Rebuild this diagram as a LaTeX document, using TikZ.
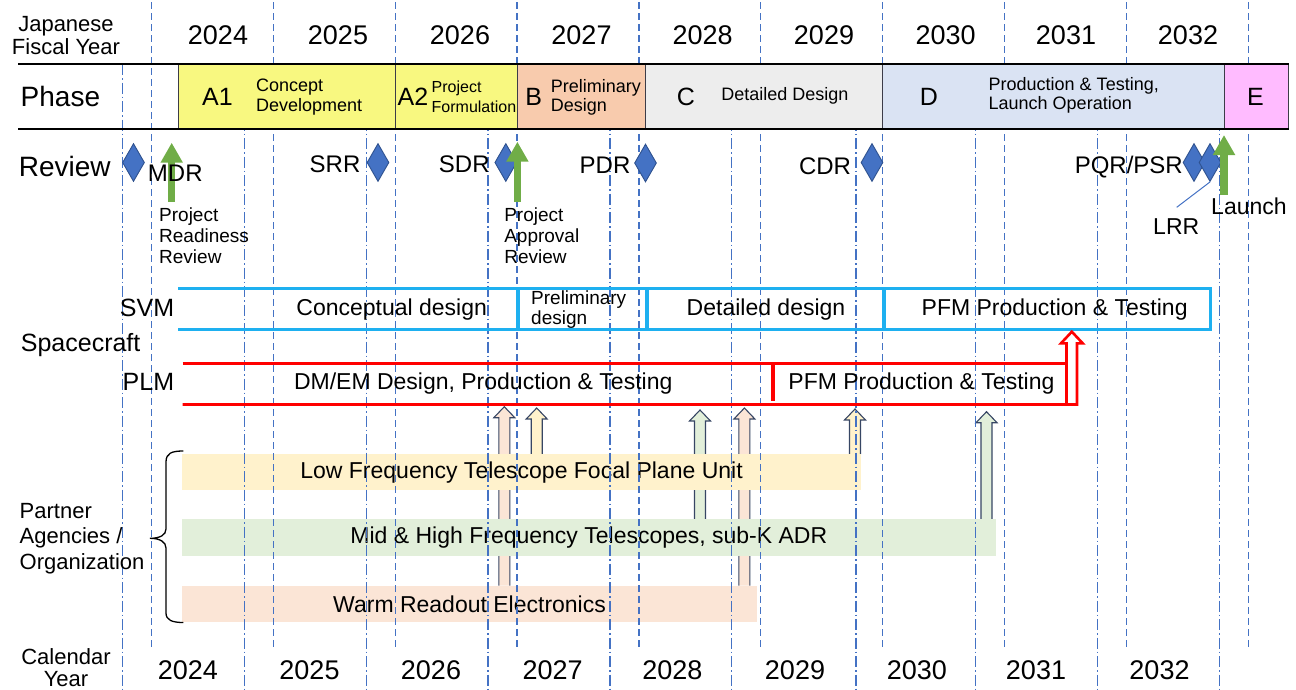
\documentclass[tikz,border=0pt]{standalone}
\usepackage{fontspec}
\setmainfont{Liberation Sans}
\usetikzlibrary{shapes.geometric,arrows.meta,calc,backgrounds}
\definecolor{gridblue}{RGB}{68,114,196}
\definecolor{revfill}{RGB}{68,114,196}
\definecolor{revline}{RGB}{47,82,143}
\definecolor{msgreen}{RGB}{112,173,71}
\definecolor{boxline}{RGB}{60,60,72}
\definecolor{phaseA}{RGB}{248,248,128}
\definecolor{phaseB}{RGB}{248,203,173}
\definecolor{phaseC}{RGB}{237,237,237}
\definecolor{phaseD}{RGB}{218,227,243}
\definecolor{phaseE}{RGB}{255,187,255}
\definecolor{svmblue}{RGB}{30,176,240}
\definecolor{lfcol}{RGB}{255,242,204}
\definecolor{mhcol}{RGB}{226,239,218}
\definecolor{wrcol}{RGB}{251,229,214}
\definecolor{feedline}{RGB}{55,70,100}
\tikzstyle{fyline}=[draw=gridblue, line width=1.2pt, dash pattern=on 7pt off 4pt]
\tikzstyle{cyline}=[draw=gridblue, line width=1.2pt, dash pattern=on 11pt off 3pt on 1.5pt off 3pt]
\tikzstyle{phasebox}=[draw=boxline, line width=0.9pt]
\tikzstyle{phaserule}=[draw=black, line width=2.6pt]
\tikzstyle{review}=[diamond, draw=revline, fill=revfill, line width=0.9pt, inner sep=0pt, minimum width=22pt, minimum height=38pt]
\newcommand{\review}{\node[review]}
\tikzstyle{milestone}=[draw=msgreen, line width=7.5pt, -{Triangle[width=21pt,length=20pt]}]
\tikzstyle{svmline}=[draw=svmblue, line width=3pt]
\tikzstyle{plmline}=[draw=red, line width=2.6pt]
\tikzstyle{feed}=[draw=feedline, line width=1.1pt]
\tikzstyle{headtxt}=[inner sep=0pt, align=center, font=\fontsize{22}{23}\selectfont]
\tikzstyle{bigtxt}=[inner sep=0pt, anchor=west, font=\fontsize{28}{30}\selectfont]
\tikzstyle{yeartxt}=[inner sep=0pt, font=\fontsize{27}{30}\selectfont]
\tikzstyle{ltrtxt}=[inner sep=0pt, font=\fontsize{25}{28}\selectfont]
\tikzstyle{desctxt}=[inner sep=0pt, anchor=west, align=left, font=\fontsize{18}{19.5}\selectfont]
\tikzstyle{revtxt}=[inner sep=0pt, font=\fontsize{24}{26}\selectfont]
\tikzstyle{subtxt}=[inner sep=0pt, anchor=west, align=left, font=\fontsize{19}{20.8}\selectfont]
\tikzstyle{modtxt}=[inner sep=0pt, font=\fontsize{25}{28}\selectfont]
\tikzstyle{segtxt}=[inner sep=0pt, font=\fontsize{23}{26}\selectfont]
\tikzstyle{bartxt}=[inner sep=0pt, anchor=north west, font=\fontsize{23}{26}\selectfont]
\newcommand{\feed}[3]{\draw[feed, fill=#1] let \p1=(#2), \p2=(#3) in
    (\x1-5.5pt,\y1) -- (\x1-5.5pt,\y2-11pt) -- (\x1-10.5pt,\y2-11pt) -- (\x1,\y2)
    -- (\x1+10.5pt,\y2-11pt) -- (\x1+5.5pt,\y2-11pt) -- (\x1+5.5pt,\y1);}

\begin{document}
\begin{tikzpicture}[x=1pt, y=-1pt]
            \useasboundingbox (0,0) rectangle (1296,689);
            \node[bartxt, fill=lfcol, minimum width=679.3, minimum height=36] (lf) at (181.7,454) {Low Frequency Telescope Focal Plane Unit};
            \node[bartxt, fill=mhcol, minimum width=813.9, minimum height=36.5] (mh) at (181.7,519) {Mid \& High Frequency Telescopes, sub-K ADR};
            \node[bartxt, fill=wrcol, minimum width=575.3, minimum height=36.3] (wr) at (181.7,585.7) {Warm Readout Electronics};
            \coordinate (f1) at (504.3,406.7);
            \coordinate (f2) at (536.7,408);
            \coordinate (f3) at (700,410);
            \coordinate (f4) at (744.4,408);
            \coordinate (f5) at (855,409);
            \coordinate (f6) at (986.5,411.7);
            \begin{pgfonlayer}{background}
                \feed{wrcol}{wr.north -| f1}{f1}
                \feed{lfcol}{lf.north -| f2}{f2}
                \feed{mhcol}{mh.north -| f3}{f3}
                \feed{wrcol}{wr.north -| f4}{f4}
                \feed{lfcol}{lf.north -| f5}{f5}
                \feed{mhcol}{mh.north -| f6}{f6}
            \end{pgfonlayer}
            \draw[fyline] (151.3,2) -- (151.3,648) (273.2,2) -- (273.2,648) (395.1,2) -- (395.1,648)
                (517,2) -- (517,648) (638.9,2) -- (638.9,648) (760.8,2) -- (760.8,648)
                (882.7,2) -- (882.7,648) (1004.6,2) -- (1004.6,648) (1126.5,2) -- (1126.5,648)
                (1248.4,2) -- (1248.4,648);
            \draw[cyline] (122.3,64) -- (122.3,689) (244.2,64) -- (244.2,689) (366.1,64) -- (366.1,689)
                (488,64) -- (488,689) (609.9,64) -- (609.9,689) (731.8,64) -- (731.8,689)
                (856,64) -- (856,689) (975.6,64) -- (975.6,689) (1097.5,64) -- (1097.5,689)
                (1219.4,64) -- (1219.4,689);
            \draw[phasebox, fill=phaseA] (178.4,64) rectangle (395.4,129);
            \draw[phasebox, fill=phaseA] (395.4,64) rectangle (517.8,129);
            \draw[phasebox, fill=phaseB] (517.8,64) rectangle (645.5,129);
            \draw[phasebox, fill=phaseC] (645.5,64) rectangle (882.7,129);
            \draw[phasebox, fill=phaseD] (882.7,64) rectangle (1224.5,129);
            \draw[phasebox, fill=phaseE] (1224.5,64) rectangle (1288.5,129);
            \draw[phaserule] (18,64) -- (1288.5,64) (18,129) -- (1288.5,129);
            \node[headtxt] (fy) at (66,35.5) {Japanese\\Fiscal Year};
            \node[yeartxt] (fy24) at (218,35) {2024};
            \node[yeartxt] (fy25) at (338,35) {2025};
            \node[yeartxt] (fy26) at (460,35) {2026};
            \node[yeartxt] (fy27) at (581.5,35) {2027};
            \node[yeartxt] (fy28) at (702.7,35) {2028};
            \node[yeartxt] (fy29) at (824,35) {2029};
            \node[yeartxt] (fy30) at (945.6,35) {2030};
            \node[yeartxt] (fy31) at (1066,35) {2031};
            \node[yeartxt] (fy32) at (1188,35) {2032};
            \node[bigtxt] (phase) at (20.5,96.5) {Phase};
            \node[ltrtxt] (a1) at (217.4,96.5) {A1};
            \node[desctxt] (a1txt) at (256,97) {Concept\\Development};
            \node[ltrtxt] (a2) at (412.9,96.5) {A2};
            \node[desctxt, font=\fontsize{16}{19.5}\selectfont] (a2txt) at (431.5,97) {Project\\Formulation};
            \node[ltrtxt] (b) at (533.8,96.5) {B};
            \node[desctxt] (btxt) at (550.6,97.5) {Preliminary\\Design};
            \node[ltrtxt] (c) at (686,96.5) {C};
            \node[desctxt, anchor=center] (ctxt) at (784.8,96) {Detailed Design};
            \node[ltrtxt] (d) at (929,96.5) {D};
            \node[desctxt] (dtxt) at (988.5,95.5) {Production \& Testing,\\Launch Operation};
            \node[ltrtxt] (e) at (1255.4,96.5) {E};
            \node[bigtxt] (review) at (18.7,166.7) {Review};
            \review (mdrd) at (133.5,162.5){};
            \review (srrd) at (378,162.5){};
            \review (sdrd) at (505.8,162.5){};
            \review (pdrd) at (645.5,163){};
            \review (cdrd) at (872,162.5){};
            \review (psrd) at (1194,162.5){};
            \review (lrrd) at (1210,162.5){};
            \coordinate (mdrfoot) at (171.7,201.7);
            \coordinate (mdrup) at (171.7,142.7);
            \coordinate (parfoot) at (517.4,201.7);
            \coordinate (parup) at (517.4,141.7);
            \coordinate (lchfoot) at (1224,195);
            \coordinate (lchup) at (1224,135);
            \coordinate (lrrfoot) at (1176.7,207.3);
            \draw[milestone] (mdrfoot) -- (mdrup);
            \draw[milestone] (parfoot) -- (parup);
            \draw[milestone] (lchfoot) -- (lchup);
            \draw[gridblue, line width=1pt] (lrrfoot) -- (lrrd.south);
            \node[revtxt] (mdr) at (175.3,173.3) {MDR};
            \node[revtxt] (srr) at (335,164) {SRR};
            \node[revtxt] (sdr) at (464.3,164) {SDR};
            \node[revtxt] (pdr) at (605,165) {PDR};
            \node[revtxt] (cdr) at (825,166) {CDR};
            \node[revtxt, anchor=east] (pqr) at (1183,167) {PQR/PSR};
            \node[subtxt] (prr) at (159,236) {Project\\Readiness\\Review};
            \node[subtxt] (par) at (504.1,236) {Project\\Approval\\Review};
            \node[segtxt, anchor=west] (launch) at (1211,206.7) {Launch};
            \node[segtxt, anchor=west] (lrr) at (1153,226.7) {LRR};
            \draw[svmline] (178.4,288) -- (1210.7,288) -- (1210.7,329) -- (178.4,329);
            \draw[svmline, line width=3.5pt] (517.8,288) -- (517.8,329) (647,288) -- (647,329) (884,288) -- (884,329);
            \node[modtxt, anchor=east] (svm) at (174.3,308.3) {SVM};
            \node[segtxt] (svm1) at (391.7,310) {Conceptual design};
            \node[subtxt, font=\fontsize{19}{19.3}\selectfont] (svm2) at (531,309.7) {Preliminary\\design};
            \node[segtxt] (svm3) at (766,310) {Detailed design};
            \node[segtxt] (svm4) at (1054.6,310) {PFM Production \& Testing};
            \node[modtxt, anchor=west] (sc) at (20.7,345) {Spacecraft};
            \draw[plmline] (182.6,363.3) -- (1066.5,363.3) -- (1066.5,404.5);
            \draw[plmline] (182.6,404.5) -- (1077,404.5) -- (1077,343.3) -- (1082.7,343.3) -- (1071.8,331.7)
                -- (1061,343.3) -- (1066.5,343.3) -- (1066.5,363.3);
            \draw[plmline, line width=3.5pt] (773,363.3) -- (773,401);
            \node[modtxt, anchor=east] (plm) at (174.3,381.7) {PLM};
            \node[segtxt, anchor=west] (plm1) at (293.8,384) {DM/EM Design, Production \& Testing};
            \node[segtxt] (plm2) at (921.4,384) {PFM Production \& Testing};
            \draw[line width=1.3pt] (183.4,451) .. controls (172,451) and (166,453) .. (166,462) -- (166,529)
                .. controls (166,535) and (160,538.3) .. (150,538.3) .. controls (160,538.3) and (166,542) .. (166,548)
                -- (166,613) .. controls (166,620) and (172,622.5) .. (183.4,622.5);
            \node[headtxt, anchor=west, align=left, font=\fontsize{22}{25.3}\selectfont] (partner) at (19.5,538.5) {Partner\\Agencies /\\Organization};
            \node[headtxt, font=\fontsize{22}{21.6}\selectfont] (cy) at (66,667.5) {Calendar\\Year};
            \node[yeartxt] (cy24) at (187.8,670) {2024};
            \node[yeartxt] (cy25) at (309.5,670) {2025};
            \node[yeartxt] (cy26) at (431,670) {2026};
            \node[yeartxt] (cy27) at (552.6,670) {2027};
            \node[yeartxt] (cy28) at (672.4,670) {2028};
            \node[yeartxt] (cy29) at (795,670) {2029};
            \node[yeartxt] (cy30) at (916.8,670) {2030};
            \node[yeartxt] (cy31) at (1036,670) {2031};
            \node[yeartxt] (cy32) at (1159.5,670) {2032};
        \end{tikzpicture}
\end{document}
